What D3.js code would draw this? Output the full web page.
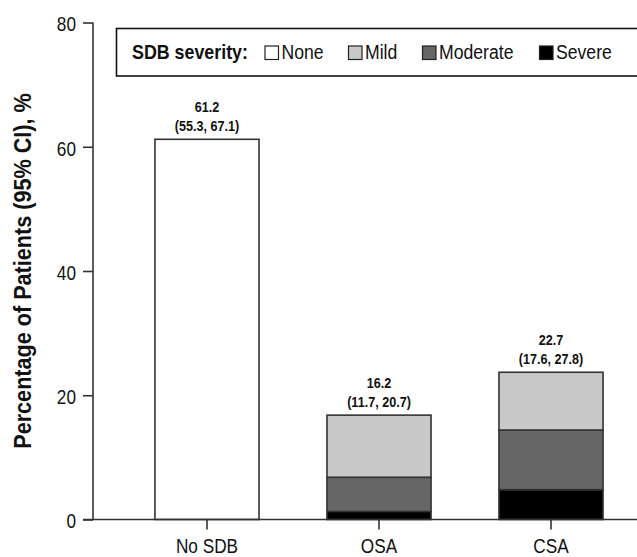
<!DOCTYPE html>
<html>
<head>
<meta charset="utf-8">
<script src="https://cdn.jsdelivr.net/npm/d3@7"></script>
<style>
  html, body { margin: 0; padding: 0; background: #fff; }
  svg { display: block; }
  text { font-family: "Liberation Sans", Arial, Helvetica, sans-serif; }
</style>
</head>
<body>
<svg id="chart" width="637" height="557"></svg>
<script>
const categories = ["No SDB", "OSA", "CSA"];
const severities = ["None", "Mild", "Moderate", "Severe"];
const stackOrder = ["Severe", "Moderate", "Mild", "None"];
const noneValues     = [61.2, 0, 0];
const mildValues     = [0, 10.0, 9.3];
const moderateValues = [0, 5.5, 9.6];
const severeValues   = [0, 1.3, 4.8];
const totalLabels = ["61.2", "16.2", "22.7"];
const ciLabels = ["(55.3, 67.1)", "(11.7, 20.7)", "(17.6, 27.8)"];
const yTicks = [0, 20, 40, 60, 80];
const colors = { None: "#ffffff", Mild: "#c8c8c8", Moderate: "#666666", Severe: "#000000" };

const rows = categories.map((c, i) => ({
  category: c, None: noneValues[i], Mild: mildValues[i],
  Moderate: moderateValues[i], Severe: severeValues[i]
}));

// emulate a condensed typeface by horizontal scaling
function condense(sel, sx) {
  sel.each(function () {
    const t = d3.select(this);
    const x = +t.attr("x") || 0, y = +t.attr("y") || 0;
    t.attr("x", 0).attr("y", 0).attr("transform", `translate(${x},${y}) scale(${sx},1)`);
  });
}

const svg = d3.select("#chart");
const axisX = 93;
const x = d3.scaleBand().domain(categories).range([121, 637])
  .paddingInner(0.395).paddingOuter(0.1975).align(0.5);
const y = d3.scaleLinear().domain([0, 80]).range([519.5, 22.5]);

const series = d3.stack().keys(stackOrder)(rows);

// bars
svg.append("g").selectAll("g").data(series).join("g")
  .attr("fill", d => colors[d.key])
  .selectAll("rect").data(d => d.filter(p => p[1] - p[0] > 0)).join("rect")
  .attr("x", d => x(d.data.category))
  .attr("width", x.bandwidth())
  .attr("y", d => y(d[1]))
  .attr("height", d => y(d[0]) - y(d[1]))
  .attr("stroke", "#333")
  .attr("stroke-width", 1.6);

// y axis
const yAxis = svg.append("g").attr("transform", `translate(${axisX},0)`)
  .call(d3.axisLeft(y).tickValues(yTicks).tickSize(10).tickPadding(7).tickFormat(d3.format("d")));
yAxis.select(".domain").attr("d", `M0,${y(80)}V${y(0)}`).attr("stroke", "#333").attr("stroke-width", 1.6);
yAxis.selectAll(".tick line").attr("stroke", "#333").attr("stroke-width", 1.6);
yAxis.selectAll(".tick text").attr("font-size", 21).attr("fill", "#111").attr("dy", "0.4em")
  .call(condense, 0.82);

// x axis
const xAxis = svg.append("g").attr("transform", `translate(0,${y(0)})`)
  .call(d3.axisBottom(x).tickSize(10).tickPadding(9));
xAxis.select(".domain").attr("d", `M83,0H637`).attr("stroke", "#333").attr("stroke-width", 1.6);
xAxis.selectAll(".tick line").attr("stroke", "#333").attr("stroke-width", 1.6);
xAxis.selectAll(".tick text").attr("font-size", 20.5).attr("fill", "#111")
  .call(condense, 0.84);

// value labels
const totals = rows.map(r => severities.reduce((s, k) => s + r[k], 0));
const lab = svg.append("g").attr("text-anchor", "middle").attr("font-weight", "bold")
  .attr("font-size", 15).attr("fill", "#111");
lab.selectAll("text.t").data(categories).join("text").attr("class", "t")
  .attr("x", d => x(d) + x.bandwidth() / 2)
  .attr("y", (d, i) => y(totals[i]) - 27)
  .text((d, i) => totalLabels[i])
  .call(condense, 0.84);
lab.selectAll("text.ci").data(categories).join("text").attr("class", "ci")
  .attr("x", d => x(d) + x.bandwidth() / 2)
  .attr("y", (d, i) => y(totals[i]) - 8.5)
  .text((d, i) => ciLabels[i])
  .call(condense, 0.84);

// y title
svg.append("text")
  .attr("transform", `translate(31,${(y(0) + y(80)) / 2}) rotate(-90) scale(0.94,1)`)
  .attr("text-anchor", "middle").attr("font-weight", "bold").attr("font-size", 23)
  .attr("fill", "#111")
  .text("Percentage of Patients (95% CI), %");

// legend
const leg = svg.append("g");
leg.append("rect").attr("x", 116.5).attr("y", 28.5).attr("width", 530).attr("height", 47.5)
  .attr("fill", "#fff").attr("stroke", "#111").attr("stroke-width", 1.6);
leg.append("text").attr("x", 132).attr("y", 58.5).attr("font-weight", "bold").attr("font-size", 21)
  .attr("fill", "#111").text("SDB severity:").call(condense, 0.85);
const legX = [265, 348.5, 422.5, 539.5];
severities.forEach((s, i) => {
  leg.append("rect").attr("x", legX[i]).attr("y", 46).attr("width", 13.5).attr("height", 13.5)
    .attr("fill", colors[s]).attr("stroke", "#222").attr("stroke-width", 1.2);
  leg.append("text").attr("x", legX[i] + 16.5).attr("y", 58.5).attr("font-size", 21)
    .attr("fill", "#111").text(s).call(condense, 0.84);
});
</script>
</body>
</html>
